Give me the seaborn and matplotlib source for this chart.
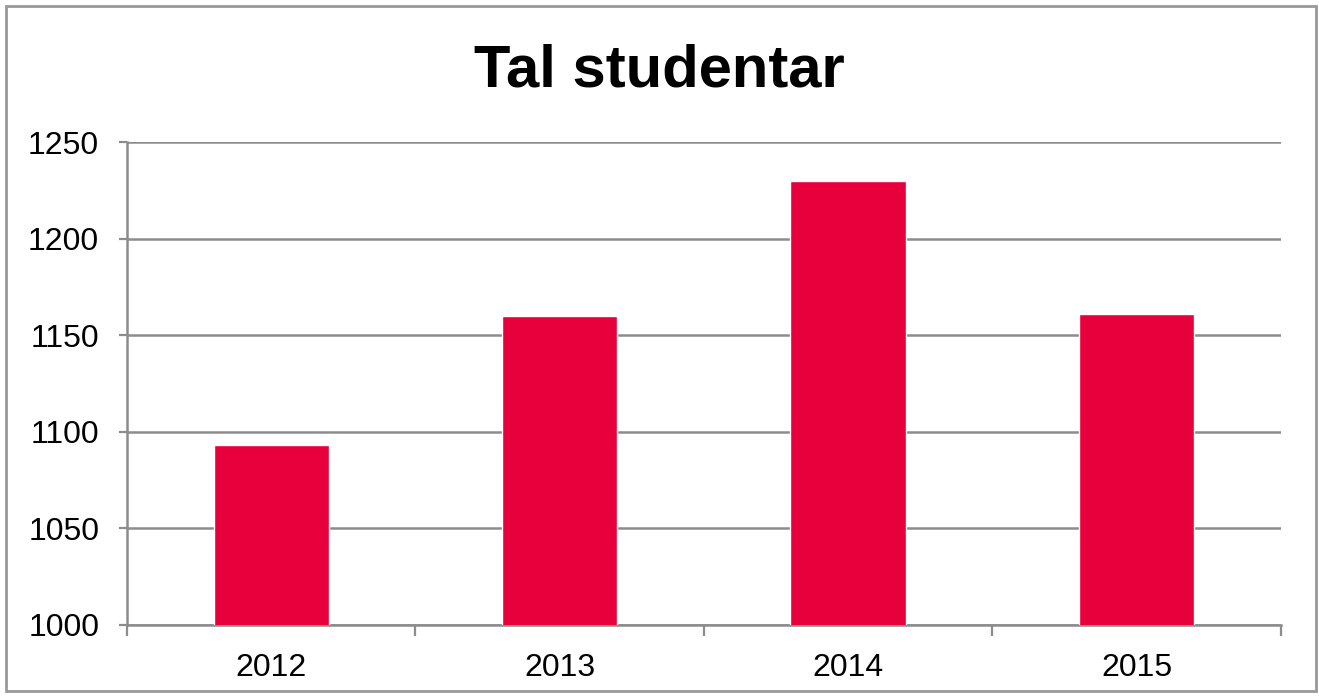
import pandas as pd
import matplotlib.pyplot as plt
import seaborn as sns
from matplotlib.patches import Rectangle

# data
years = ["2012", "2013", "2014", "2015"]
students = [1093, 1160, 1230, 1161]
y_ticks = [1000, 1050, 1100, 1150, 1200, 1250]

sns.set_style("white")
plt.rcParams["font.family"] = ["Liberation Sans", "DejaVu Sans"]

df = pd.DataFrame({"year": years, "students": students})

fig = plt.figure(figsize=(13.19, 6.97), dpi=100)
ax = fig.add_axes([0.0963, 0.1033, 0.8747, 0.6927])

grid_col = "#8c8c8c"
sns.barplot(data=df, x="year", y="students", color="#e8003c", width=0.4,
            saturation=1, ax=ax, zorder=3)

ax.set_ylim(1000, 1250)
ax.set_xlim(-0.5, len(years) - 0.5)
ax.set_yticks(y_ticks)
ax.yaxis.grid(True, color=grid_col, linewidth=1.8)
ax.set_axisbelow(True)
ax.set_xlabel("")
ax.set_ylabel("")

for side in ["top", "right"]:
    ax.spines[side].set_visible(False)
for side in ["left", "bottom"]:
    ax.spines[side].set_color(grid_col)
    ax.spines[side].set_linewidth(1.8)

ax.tick_params(axis="y", labelsize=23, labelcolor="black", length=6, width=1.6,
               color=grid_col, direction="out", left=True, pad=14)
ax.tick_params(axis="x", which="major", labelsize=23, labelcolor="black",
               length=0, pad=20)
# x ticks sit between the categories
ax.set_xticks([i - 0.5 for i in range(len(years) + 1)], minor=True)
ax.tick_params(axis="x", which="minor", length=8, width=1.6, color=grid_col,
               direction="out", bottom=True)

fig.suptitle("Tal studentar", fontsize=43, fontweight="bold", color="black",
             y=0.937)

# outer frame
fig.patches.append(Rectangle((0.0045, 0.009), 0.993, 0.983, transform=fig.transFigure,
                             fill=False, edgecolor="#999999", linewidth=2))

fig.savefig("out.png", dpi=100)
